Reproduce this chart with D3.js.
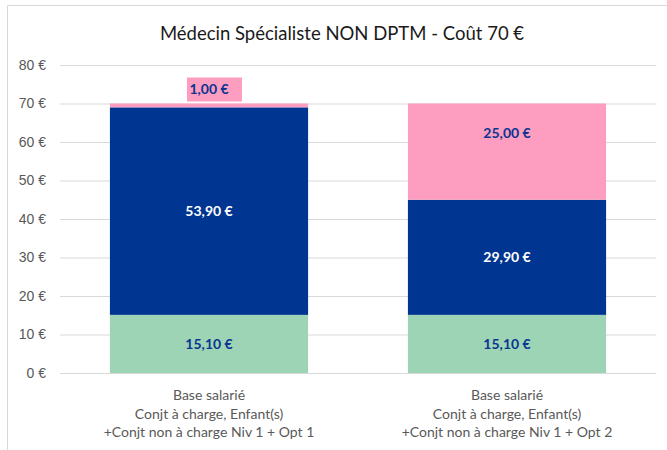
<!DOCTYPE html>
<html><head><meta charset="utf-8">
<script src="https://cdn.jsdelivr.net/npm/d3@7"></script>
<style>body{margin:0;background:#fff;}svg{display:block;font-family:"Source Sans Pro",Lato,"Open Sans",sans-serif;}</style>
</head><body>
<svg id="c" width="667" height="450"></svg>
<script>
const title = "Médecin Spécialiste NON DPTM - Coût 70 €";
const categories = ["Opt 1", "Opt 2"];
const categoryLines = [
  ["Base salarié", "Conjt à charge, Enfant(s)", "+Conjt non à charge Niv 1 + Opt 1"],
  ["Base salarié", "Conjt à charge, Enfant(s)", "+Conjt non à charge Niv 1 + Opt 2"]
];
const seriesNames = ["Sécu", "Base", "Option"];
const secu = [15.10, 15.10];
const base = [53.90, 29.90];
const option = [1.00, 25.00];
const yTicks = [0, 10, 20, 30, 40, 50, 60, 70, 80];
const colors = ["#9dd4b6", "#003591", "#fd9dc0"];
const labelColors = ["#0b3590", "#ffffff", "#0b3590"];

const svg = d3.select("#c");
const W = 667, H = 450;
const m = {l: 60, r: 11, t: 65, b: 77};

// frame
svg.append("line").attr("x1", 7.5).attr("x2", 667).attr("y1", 5.5).attr("y2", 5.5).attr("stroke", "#d9d9d9");
svg.append("line").attr("x1", 7.5).attr("x2", 7.5).attr("y1", 5.5).attr("y2", 450).attr("stroke", "#d9d9d9");

svg.append("text").attr("x", 342).attr("y", 40).attr("text-anchor", "middle")
  .attr("font-size", 18.5).attr("fill", "#1a1a1a").text(title);

const x = d3.scaleBand().domain(categories).range([m.l, W - m.r]).paddingInner(0.335).paddingOuter(0.1675);
const y = d3.scaleLinear().domain([0, 80]).range([H - m.b, m.t]);

const yAxis = svg.append("g").attr("transform", `translate(${m.l},0)`)
  .call(d3.axisLeft(y).tickValues(yTicks).tickSize(-(W - m.r - m.l)).tickFormat(d => d + " €"));
yAxis.select(".domain").remove();
yAxis.selectAll(".tick line").attr("stroke", "#d9d9d9");
yAxis.selectAll(".tick text").attr("fill", "#595959").attr("font-size", 14).attr("x", -14)
  .style("font-family", "inherit");

const data = categories.map((c, i) => ({cat: c, vals: [secu[i], base[i], option[i]]}));
const stack = d3.stack().keys([0, 1, 2]).value((d, k) => d.vals[k]);
const layers = stack(data);

layers.forEach((layer, k) => {
  svg.append("g").selectAll("rect").data(layer).join("rect")
    .attr("x", d => x(d.data.cat)).attr("width", x.bandwidth())
    .attr("y", d => y(d[1])).attr("height", d => y(d[0]) - y(d[1]))
    .attr("fill", colors[k]);
});

const fmt = v => v.toFixed(2).replace(".", ",") + " €";
layers.forEach((layer, k) => {
  layer.forEach((d, i) => {
    const v = d[1] - d[0];
    const cx = x(d.data.cat) + x.bandwidth() / 2;
    const h = y(d[0]) - y(d[1]);
    let cy = (y(d[0]) + y(d[1])) / 2;
    // top segment labels in the reference sit in the upper part of the segment
    if (k === 2 && h >= 16) cy = y(d[1]) + 30;
    const g = svg.append("g");
    if (h < 16) {
      cy = y(d[1]) - 14;
      g.append("rect").attr("x", cx - 22).attr("y", cy - 12).attr("width", 55).attr("height", 24)
        .attr("fill", colors[k]);
    }
    g.append("text").attr("x", cx).attr("y", cy).attr("dy", "0.35em").attr("text-anchor", "middle")
      .attr("font-size", 14).attr("font-weight", "bold").attr("fill", labelColors[k]).text(fmt(v));
  });
});

categories.forEach((c, i) => {
  const t = svg.append("text").attr("text-anchor", "middle").attr("fill", "#595959").attr("font-size", 14);
  categoryLines[i].forEach((ln, j) => {
    t.append("tspan").attr("x", x(c) + x.bandwidth() / 2).attr("y", 400 + j * 18.5).text(ln);
  });
});
</script>
</body></html>
